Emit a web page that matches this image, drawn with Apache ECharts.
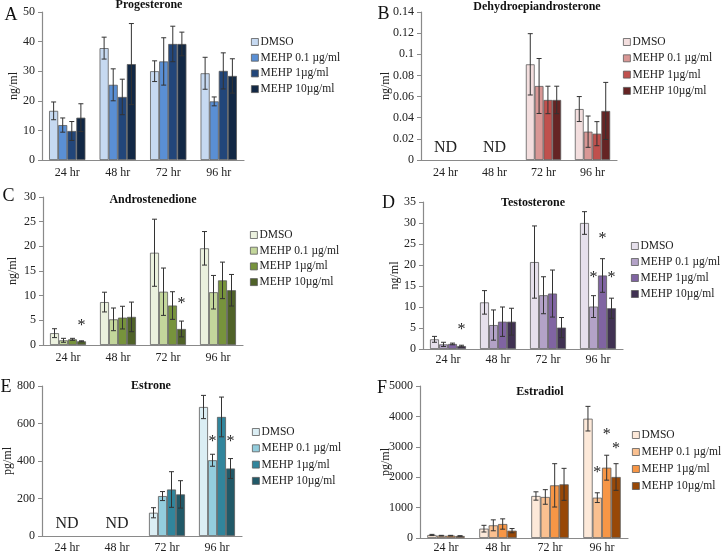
<!DOCTYPE html>
<html><head><meta charset="utf-8">
<script src="https://cdn.jsdelivr.net/npm/echarts@6/dist/echarts.min.js"></script>
<style>html,body{margin:0;padding:0;background:#fff}#c{width:722px;height:555px}</style>
</head><body><div id="c"></div>
<script>
// ---------- DATA ----------
const categories = ['24 hr', '48 hr', '72 hr', '96 hr'];
const groups = ['DMSO', 'MEHP 0.1 µg/ml', 'MEHP 1µg/ml', 'MEHP 10µg/ml'];

// rows = groups (DMSO, 0.1, 1, 10), columns = time points
const progMean = [[16.6, 37.8, 30.0, 29.3], [11.8, 25.4, 33.3, 19.8], [9.8, 21.3, 39.2, 30.1], [14.3, 32.4, 39.2, 28.4]];
const progErr  = [[3.0, 3.7, 3.5, 5.4], [2.4, 5.4, 8.0, 1.5], [3.2, 6.0, 6.0, 6.1], [4.7, 13.7, 4.0, 5.8]];

const dheaMean = [[null, null, 0.0905, 0.0482], [null, null, 0.070, 0.0268], [null, null, 0.0568, 0.0249], [null, null, 0.0568, 0.0464]];
const dheaErr  = [[null, null, 0.029, 0.0118], [null, null, 0.026, 0.0148], [null, null, 0.013, 0.0114], [null, null, 0.013, 0.027]];

const androMean = [[2.4, 8.7, 18.7, 19.6], [0.95, 5.2, 10.8, 10.7], [1.15, 5.55, 8.0, 13.1], [0.75, 5.7, 3.25, 11.1]];
const androErr  = [[0.9, 2.0, 6.8, 3.4], [0.4, 2.3, 4.8, 3.4], [0.2, 2.3, 2.8, 3.7], [0.1, 3.0, 1.6, 3.2]];

const testoMean = [[2.3, 11.1, 20.7, 30.0], [1.1, 5.7, 12.8, 10.1], [1.2, 6.5, 13.2, 17.5], [0.7, 6.5, 5.1, 9.7]];
const testoErr  = [[0.7, 2.8, 8.6, 2.7], [0.5, 3.6, 4.4, 2.6], [0.2, 3.5, 5.6, 4.0], [0.2, 3.2, 2.4, 2.4]];

const estroneMean = [[null, null, 124, 688], [null, null, 213, 404], [null, null, 248, 635], [null, null, 222, 360]];
const estroneErr  = [[null, null, 27, 62], [null, null, 24, 32], [null, null, 95, 106], [null, null, 73, 53]];

const estradiolMean = [[99, 307, 1382, 3925], [77, 417, 1350, 1327], [77, 460, 1732, 2313], [66, 241, 1765, 2007]];
const estradiolErr  = [[20, 110, 137, 405], [10, 180, 240, 160], [10, 170, 713, 410], [10, 70, 526, 438]];

// significance stars: [time index, group index, y value of star]
const androStars = [[0, 3, 4.4], [2, 3, 9.0]];
const testoStars = [[0, 3, 5.3], [3, 1, 17.7], [3, 2, 27.0], [3, 3, 17.7]];
const estroneStars = [[3, 1, 520], [3, 3, 520]];
const estradiolStars = [[3, 1, 2248], [3, 2, 3509], [3, 3, 3048]];

// not-detected time points
const dheaND = [0, 1];
const estroneND = [0, 1];

// ---------- STYLE / LAYOUT ----------
const FONT = '"Liberation Serif", "Times New Roman", serif';
const GAP = 0.28;
const panels = [
  {title: 'Progesterone', letter: 'A', mean: progMean, err: progErr, unit: 'ng/ml', max: 50, interval: 10,
   colors: ['#c6d9f1', '#5a8fd4', '#22467a', '#122845'],
   grid: {left: 42, top: 12, width: 202, height: 148}, nameGap: 22,
   legend: {left: 251, top: 35, gap: 1.7}, titlePos: [149, 5], letterPos: [11, 15], stars: [], nd: [], xMargin: 7},
  {title: 'Dehydroepiandrosterone', letter: 'B', mean: dheaMean, err: dheaErr, unit: 'ng/ml', max: 0.14, interval: 0.02,
   colors: ['#f3dede', '#d99795', '#c0504d', '#652424'],
   grid: {left: 421, top: 12, width: 196, height: 148}, nameGap: 29,
   legend: {left: 623, top: 35, gap: 2.3}, titlePos: [537, 7], letterPos: [383.5, 14], stars: [], nd: dheaND, xMargin: 7},
  {title: 'Androstenedione', letter: 'C', mean: androMean, err: androErr, unit: 'ng/ml', max: 30, interval: 5,
   colors: ['#ebf1de', '#c3d69b', '#77933c', '#4f6228'],
   grid: {left: 43, top: 197, width: 200, height: 148}, nameGap: 24,
   legend: {left: 250, top: 228, gap: 1.7}, titlePos: [153, 200], letterPos: [8.5, 196], stars: androStars, nd: [], xMargin: 7},
  {title: 'Testosterone', letter: 'D', mean: testoMean, err: testoErr, unit: 'ng/ml', max: 35, interval: 5,
   colors: ['#e6e0ec', '#b3a2c7', '#8064a2', '#403152'],
   grid: {left: 423, top: 202, width: 200, height: 147}, nameGap: 22,
   legend: {left: 631, top: 239, gap: 2.0}, titlePos: [533, 203], letterPos: [388.5, 203], stars: testoStars, nd: [], xMargin: 5},
  {title: 'Estrone', letter: 'E', mean: estroneMean, err: estroneErr, unit: 'pg/ml', max: 800, interval: 200,
   colors: ['#dbeef4', '#93cddd', '#31859c', '#215968'],
   grid: {left: 42, top: 386, width: 200, height: 150}, nameGap: 28,
   legend: {left: 252, top: 425, gap: 2.3}, titlePos: [151, 386], letterPos: [6, 387], stars: estroneStars, nd: estroneND, xMargin: 6},
  {title: 'Estradiol', letter: 'F', mean: estradiolMean, err: estradiolErr, unit: 'pg/ml', max: 5000, interval: 1000,
   colors: ['#fde9d9', '#fac090', '#f79646', '#984807'],
   grid: {left: 420, top: 386, width: 208, height: 152}, nameGap: 28,
   legend: {left: 632, top: 428, gap: 3.0}, titlePos: [540, 392], letterPos: [382, 388], stars: estradiolStars, nd: [], xMargin: 4}
];

function slotX(api, cat, s) {
  const band = api.size([1, 0])[0];
  const total = band * (1 - GAP);
  const bw = total / 4;
  return api.coord([cat, 0])[0] - total / 2 + bw * (s + 0.5);
}

const option = {
  animation: false,
  backgroundColor: '#ffffff',
  grid: [], xAxis: [], yAxis: [], series: [], legend: [], graphic: []
};

panels.forEach(function (p, pi) {
  option.grid.push({left: p.grid.left, top: p.grid.top, width: p.grid.width, height: p.grid.height, containLabel: false});
  option.xAxis.push({
    type: 'category', gridIndex: pi, data: categories,
    axisLine: {lineStyle: {color: '#8a8a8a', width: 1.2}},
    axisTick: {show: false},
    axisLabel: {fontFamily: FONT, fontSize: 12, color: '#222', margin: p.xMargin}
  });
  option.yAxis.push({
    type: 'value', gridIndex: pi, min: 0, max: p.max, interval: p.interval,
    name: p.unit, nameLocation: 'middle', nameRotate: 90, nameGap: p.nameGap, nameMoveOverlap: false,
    nameTextStyle: {fontFamily: FONT, fontSize: 12, color: '#222'},
    axisLine: {show: true, lineStyle: {color: '#8a8a8a', width: 1.2}},
    axisTick: {show: true, length: 4, lineStyle: {color: '#8a8a8a'}},
    splitLine: {show: false},
    axisLabel: {fontFamily: FONT, fontSize: 12, color: '#222', margin: 7,
      formatter: function (v) { return String(Math.round(v * 1000) / 1000); }}
  });
  groups.forEach(function (g, gi) {
    option.series.push({
      type: 'bar', name: g, xAxisIndex: pi, yAxisIndex: pi,
      data: p.mean[gi], barGap: '0%', barCategoryGap: (GAP * 100) + '%',
      itemStyle: {color: p.colors[gi], borderColor: '#5c5c5c', borderWidth: 0.8},
      emphasis: {disabled: true}
    });
  });
  // error bars
  const errData = [];
  groups.forEach(function (g, gi) {
    p.mean[gi].forEach(function (m, ci) {
      if (m != null && p.err[gi][ci] != null) errData.push([ci, m, p.err[gi][ci], gi]);
    });
  });
  option.series.push({
    type: 'custom', name: 'err' + pi, xAxisIndex: pi, yAxisIndex: pi, z: 5,
    data: errData, silent: true,
    renderItem: function (params, api) {
      const cat = api.value(0), m = api.value(1), e = api.value(2), s = api.value(3);
      const x = slotX(api, cat, s);
      const yt = api.coord([cat, m + e])[1];
      const yb = api.coord([cat, Math.max(m - e, 0)])[1];
      const st = {stroke: '#333', lineWidth: 1};
      const c = 2.5;
      return {type: 'group', children: [
        {type: 'line', shape: {x1: x, y1: yt, x2: x, y2: yb}, style: st},
        {type: 'line', shape: {x1: x - c, y1: yt, x2: x + c, y2: yt}, style: st},
        {type: 'line', shape: {x1: x - c, y1: yb, x2: x + c, y2: yb}, style: st}
      ]};
    }
  });
  if (p.stars.length) {
    option.series.push({
      type: 'custom', name: 'star' + pi, xAxisIndex: pi, yAxisIndex: pi, z: 6,
      data: p.stars, silent: true,
      renderItem: function (params, api) {
        const cat = api.value(0), s = api.value(1), yv = api.value(2);
        const x = slotX(api, cat, s);
        const y = api.coord([cat, yv])[1];
        return {type: 'text', x: x, y: y + 3, style: {text: '*', font: '16px ' + FONT, fill: '#222', align: 'center', verticalAlign: 'middle'}};
      }
    });
  }
  if (p.nd.length) {
    option.series.push({
      type: 'custom', name: 'nd' + pi, xAxisIndex: pi, yAxisIndex: pi, z: 6,
      data: p.nd.map(function (c) { return [c, 0]; }), silent: true,
      renderItem: function (params, api) {
        const pt = api.coord([api.value(0), 0]);
        return {type: 'text', x: pt[0], y: pt[1] - 12, style: {text: 'ND', font: '16px ' + FONT, fill: '#222', align: 'center', verticalAlign: 'middle'}};
      }
    });
  }
  option.legend.push({
    orient: 'vertical', left: p.legend.left, top: p.legend.top, padding: 0,
    itemWidth: 7, itemHeight: 7, itemGap: p.legend.gap, icon: 'rect',
    selectedMode: false,
    textStyle: {fontFamily: FONT, fontSize: 11.5, color: '#222', lineHeight: 14, padding: [0, 0, 0, -3]},
    data: groups.map(function (g, gi) {
      return {name: g, itemStyle: {color: p.colors[gi], borderColor: '#5c5c5c', borderWidth: 0.8}};
    })
  });
  option.graphic.push({
    type: 'text', x: p.titlePos[0], y: p.titlePos[1],
    style: {text: p.title, font: 'bold 12px ' + FONT, fill: '#111', align: 'center', verticalAlign: 'middle'}
  });
  option.graphic.push({
    type: 'text', x: p.letterPos[0], y: p.letterPos[1],
    style: {text: p.letter, font: '18px ' + FONT, fill: '#111', align: 'center', verticalAlign: 'middle'}
  });
});

const chart = echarts.init(document.getElementById('c'), null, {renderer: 'canvas'});
chart.setOption(option);
</script></body></html>
